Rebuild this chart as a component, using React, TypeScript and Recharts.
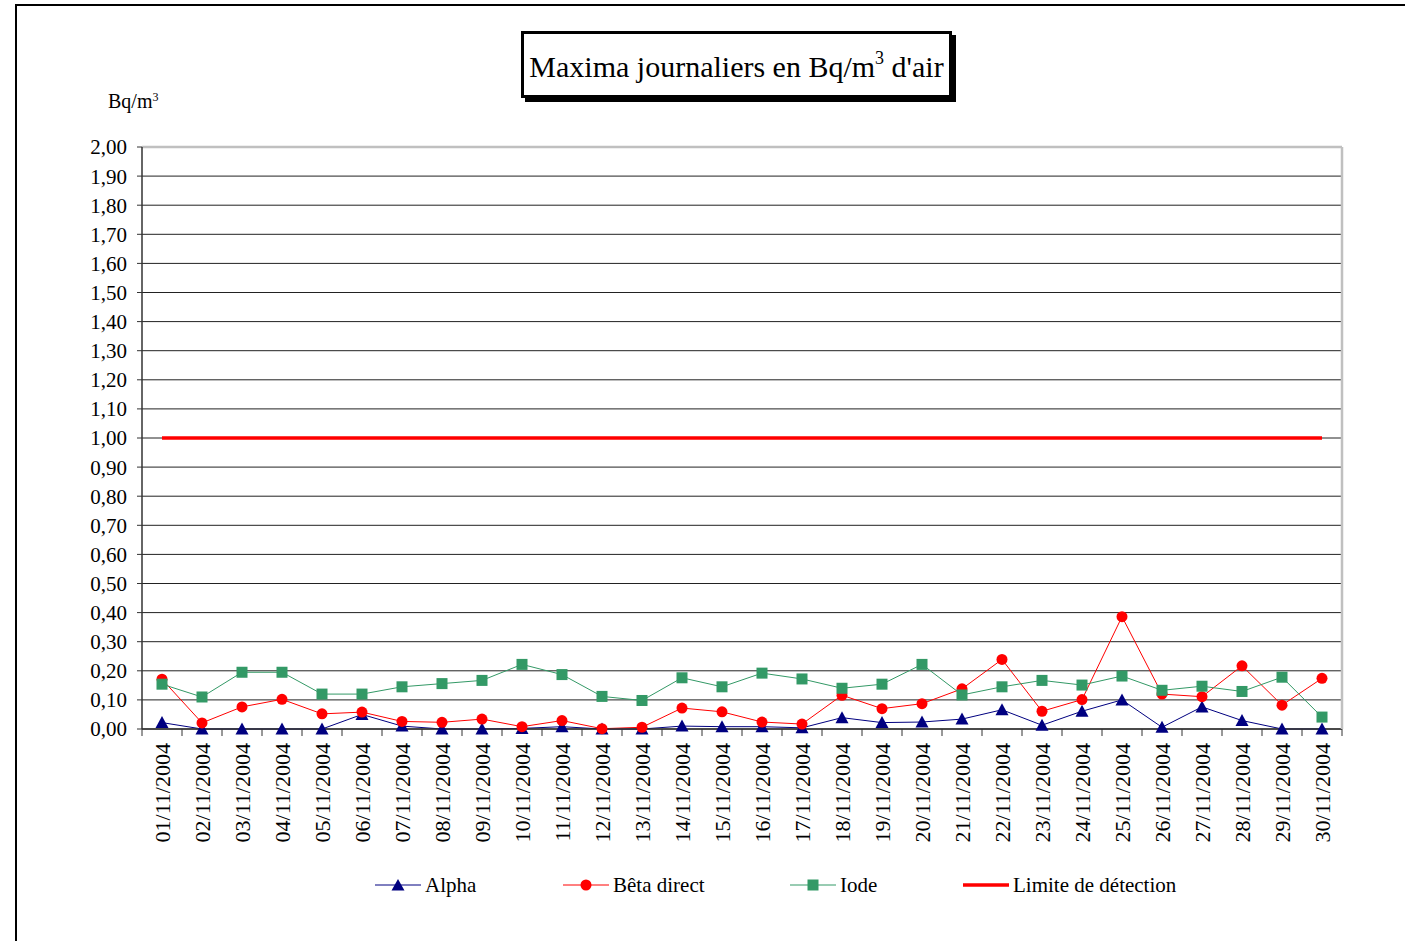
import React from "react";
import { LineChart, Line, XAxis, YAxis, CartesianGrid, ReferenceLine } from "recharts";

const dates = [
  "01/11/2004", "02/11/2004", "03/11/2004", "04/11/2004", "05/11/2004", "06/11/2004",
  "07/11/2004", "08/11/2004", "09/11/2004", "10/11/2004", "11/11/2004", "12/11/2004",
  "13/11/2004", "14/11/2004", "15/11/2004", "16/11/2004", "17/11/2004", "18/11/2004",
  "19/11/2004", "20/11/2004", "21/11/2004", "22/11/2004", "23/11/2004", "24/11/2004",
  "25/11/2004", "26/11/2004", "27/11/2004", "28/11/2004", "29/11/2004", "30/11/2004",
];
const alpha = [0.022, 0, 0, 0, 0, 0.05, 0.01, 0, 0, 0.002, 0.008, 0, 0, 0.01, 0.008, 0.008, 0.004, 0.039, 0.022, 0.024, 0.034, 0.066, 0.013, 0.061, 0.1, 0.006, 0.076, 0.029, 0, 0];
const beta = [0.171, 0.021, 0.076, 0.102, 0.052, 0.058, 0.026, 0.023, 0.034, 0.008, 0.029, 0.001, 0.006, 0.072, 0.059, 0.024, 0.017, 0.116, 0.07, 0.087, 0.138, 0.239, 0.061, 0.101, 0.386, 0.12, 0.111, 0.217, 0.082, 0.174];
const iode = [0.154, 0.11, 0.195, 0.195, 0.12, 0.12, 0.145, 0.156, 0.167, 0.222, 0.187, 0.112, 0.098, 0.176, 0.145, 0.192, 0.172, 0.14, 0.154, 0.222, 0.117, 0.145, 0.167, 0.151, 0.182, 0.133, 0.147, 0.129, 0.178, 0.041];
const limite = dates.map(() => 1.0);
const yTicks = [0, 0.1, 0.2, 0.3, 0.4, 0.5, 0.6, 0.7, 0.8, 0.9, 1.0, 1.1, 1.2, 1.3, 1.4, 1.5, 1.6, 1.7, 1.8, 1.9, 2.0];

const data = dates.map((d, i) => ({
  date: d,
  alpha: alpha[i],
  beta: beta[i],
  iode: iode[i],
  limite: limite[i],
}));

const FONT = "Liberation Serif, Times New Roman, serif";
const NAVY = "#000080";
const RED = "#FF0000";
const GREEN = "#339966";

const W = 1405;
const H = 941;
const PLOT_LEFT = 142;
const PLOT_RIGHT_EDGE = 63;
const RIGHT_AXIS_W = 1;
const PLOT_TOP = 147;
const XAXIS_H = 212;
const HALF_BAND = (W - PLOT_LEFT - PLOT_RIGHT_EDGE) / dates.length / 2;

const Triangle = (props: any) => {
  const { cx, cy, fill } = props;
  if (cx == null || cy == null) return null;
  return <path d={`M${cx},${cy - 6.5} L${cx + 6.5},${cy + 5.5} L${cx - 6.5},${cy + 5.5} Z`} fill={fill} />;
};
const Circle = (props: any) => {
  const { cx, cy, fill } = props;
  if (cx == null || cy == null) return null;
  return <circle cx={cx} cy={cy} r={5.5} fill={fill} />;
};
const Square = (props: any) => {
  const { cx, cy, fill } = props;
  if (cx == null || cy == null) return null;
  return <rect x={cx - 5.5} y={cy - 5.5} width={11} height={11} fill={fill} />;
};

const XTick = (props: any) => {
  const { x, y, payload, index } = props;
  const isLast = index === dates.length - 1;
  return (
    <g>
      <line x1={x - HALF_BAND} y1={y - 8} x2={x - HALF_BAND} y2={y - 1} stroke="#333" strokeWidth={1} />
      {isLast && (
        <line x1={x + HALF_BAND} y1={y - 8} x2={x + HALF_BAND} y2={y - 1} stroke="#333" strokeWidth={1} />
      )}
      <text
        x={x}
        y={y + 6}
        dy="0.35em"
        transform={`rotate(-90, ${x}, ${y + 6})`}
        textAnchor="end"
        fontFamily={FONT}
        fontSize={22}
        fill="#000"
      >
        {payload.value}
      </text>
    </g>
  );
};

const fmt = (v: number) => v.toFixed(2).replace(".", ",");

const legendItems = [
  { label: "Alpha", color: NAVY, marker: "triangle", x: 375 },
  { label: "Bêta direct", color: RED, marker: "circle", x: 563 },
  { label: "Iode", color: GREEN, marker: "square", x: 790 },
  { label: "Limite de détection", color: RED, marker: "none", x: 963 },
];

const LegendIcon = ({ color, marker }: { color: string; marker: string }) => (
  <svg width={48} height={16} style={{ display: "block" }}>
    <line x1={0} y1={8} x2={46} y2={8} stroke={color} strokeWidth={marker === "none" ? 3.5 : 1} />
    {marker === "triangle" && <path d="M23,2 L29.5,13.5 L16.5,13.5 Z" fill={color} />}
    {marker === "circle" && <circle cx={23} cy={8} r={5.5} fill={color} />}
    {marker === "square" && <rect x={17.5} y={2.5} width={11} height={11} fill={color} />}
  </svg>
);

export default function App() {
  return (
    <div style={{ position: "absolute", left: 0, top: 0, width: W, height: H, background: "#fff", overflow: "hidden", fontFamily: FONT }}>
      <div style={{ position: "absolute", left: 15, top: 4, width: W + 20, height: H + 20, borderTop: "2px solid #000", borderLeft: "2px solid #000" }} />
      <LineChart
        width={W}
        height={H}
        data={data}
        margin={{ top: PLOT_TOP, right: PLOT_RIGHT_EDGE - RIGHT_AXIS_W, bottom: 0, left: 0 }}
        style={{ position: "absolute", left: 0, top: 0 }}
      >
        <CartesianGrid vertical={false} stroke="#222" strokeWidth={1} yAxisId="left" />
        <XAxis
          dataKey="date"
          height={XAXIS_H}
          interval={0}
          padding={{ left: HALF_BAND, right: HALF_BAND }}
          tick={<XTick />}
          tickLine={false}
          axisLine={{ stroke: "#333", strokeWidth: 1.5 }}
        />
        <XAxis xAxisId="top" orientation="top" dataKey="date" height={0} tick={false} tickLine={false} axisLine={{ stroke: "#c0c0c0", strokeWidth: 2 }} />
        <YAxis
          yAxisId="left"
          width={PLOT_LEFT}
          domain={[0, 2]}
          ticks={yTicks}
          interval={0}
          tickFormatter={fmt}
          tickSize={5}
          tickMargin={10}
          tick={{ fontFamily: FONT, fontSize: 21, fill: "#000" }}
          tickLine={{ stroke: "#333" }}
          axisLine={{ stroke: "#333", strokeWidth: 1.5 }}
        />
        <YAxis yAxisId="right" orientation="right" width={RIGHT_AXIS_W} domain={[0, 2]} tick={false} tickLine={false} axisLine={{ stroke: "#c0c0c0", strokeWidth: 2.5 }} />
        <ReferenceLine yAxisId="left" y={2} stroke="#c0c0c0" strokeWidth={2.5} />
        <Line yAxisId="left" dataKey="alpha" stroke={NAVY} strokeWidth={1} dot={<Triangle fill={NAVY} />} isAnimationActive={false} />
        <Line yAxisId="left" dataKey="beta" stroke={RED} strokeWidth={1} dot={<Circle fill={RED} />} isAnimationActive={false} />
        <Line yAxisId="left" dataKey="iode" stroke={GREEN} strokeWidth={1} dot={<Square fill={GREEN} />} isAnimationActive={false} />
        <Line yAxisId="left" dataKey="limite" stroke={RED} strokeWidth={3.5} dot={false} isAnimationActive={false} />
      </LineChart>

      <div
        style={{
          position: "absolute",
          left: 521,
          top: 31,
          width: 425,
          height: 61,
          border: "3px solid #000",
          boxShadow: "4px 4px 0 #000",
          background: "#fff",
          display: "flex",
          alignItems: "center",
          justifyContent: "center",
          fontSize: 30,
          whiteSpace: "nowrap",
        }}
      >
        <span style={{ position: "relative", top: 2 }}>
          Maxima journaliers en Bq/m<sup style={{ fontSize: 18, verticalAlign: "0.7em", lineHeight: 0 }}>3</sup> d'air
        </span>
      </div>

      <div style={{ position: "absolute", left: 108, top: 90, fontSize: 20, whiteSpace: "nowrap" }}>
        Bq/m<sup style={{ fontSize: 12, verticalAlign: "0.6em", lineHeight: 0 }}>3</sup>
      </div>

      {legendItems.map((it) => (
        <div
          key={it.label}
          style={{ position: "absolute", left: it.x, top: 873, height: 24, display: "flex", alignItems: "center", fontSize: 21, whiteSpace: "nowrap" }}
        >
          <LegendIcon color={it.color} marker={it.marker} />
          <span style={{ marginLeft: 2 }}>{it.label}</span>
        </div>
      ))}
    </div>
  );
}
